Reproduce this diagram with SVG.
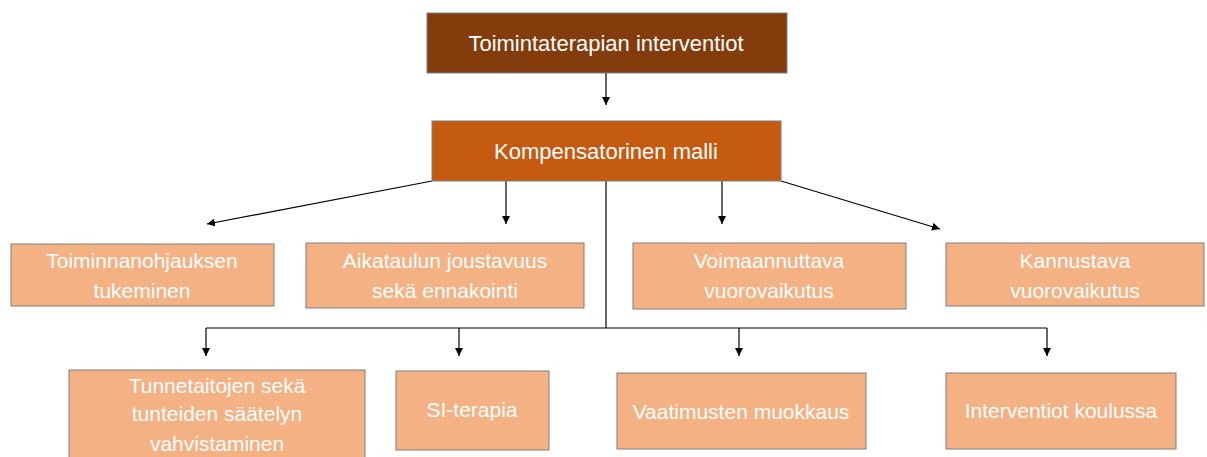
<svg xmlns="http://www.w3.org/2000/svg" width="1207" height="457" viewBox="0 0 1207 457">
<style>
.box{stroke:#7f7f7f;stroke-width:1}
.top{fill:#843c0c}
.mid{fill:#c55a11}
.leaf{fill:#f4b183}
text{font-family:"Liberation Sans",Arial,sans-serif;font-size:21px;fill:#ffffff;text-anchor:middle}
.c line,.c polyline{stroke:#000;stroke-width:1.2;fill:none}
</style>
<defs>
<marker id="ah" viewBox="0 0 10 10" refX="10" refY="5" markerWidth="8" markerHeight="8" markerUnits="userSpaceOnUse" orient="auto">
<path d="M0,0 L10,5 L0,10 z" fill="#000"/>
</marker>
</defs>
<g class="c" id="connectors">
<line x1="606" y1="73" x2="606" y2="105" marker-end="url(#ah)"/>
<line x1="432" y1="181" x2="207" y2="224" marker-end="url(#ah)"/>
<line x1="506" y1="181" x2="506" y2="224" marker-end="url(#ah)"/>
<line x1="722" y1="181" x2="722" y2="224" marker-end="url(#ah)"/>
<line x1="781" y1="181" x2="940" y2="229" marker-end="url(#ah)"/>
<polyline points="606,181 606,328"/>
<line x1="206" y1="328" x2="1047" y2="328"/>
<line x1="206" y1="328" x2="206" y2="356" marker-end="url(#ah)"/>
<line x1="459" y1="328" x2="459" y2="356" marker-end="url(#ah)"/>
<line x1="739" y1="328" x2="739" y2="356" marker-end="url(#ah)"/>
<line x1="1047" y1="328" x2="1047" y2="356" marker-end="url(#ah)"/>
</g>
<g id="n-root">
<rect class="box top" x="427" y="13" width="360" height="60"/>
<text x="606" y="51" style="font-size:22px">Toimintaterapian interventiot</text>
</g>
<g id="n-komp">
<rect class="box mid" x="432" y="121" width="349" height="60"/>
<text x="606" y="159" style="font-size:22px">Kompensatorinen malli</text>
</g>
<g id="n-toim">
<rect class="box leaf" x="11" y="244" width="263" height="62"/>
<text x="142" y="268">Toiminnanohjauksen</text>
<text x="142" y="298">tukeminen</text>
</g>
<g id="n-aika">
<rect class="box leaf" x="306" y="243" width="278" height="65"/>
<text x="445" y="268">Aikataulun joustavuus</text>
<text x="445" y="298">sekä ennakointi</text>
</g>
<g id="n-voim">
<rect class="box leaf" x="633" y="243" width="273" height="66"/>
<text x="769" y="268">Voimaannuttava</text>
<text x="769" y="298">vuorovaikutus</text>
</g>
<g id="n-kann">
<rect class="box leaf" x="946" y="243" width="258" height="63"/>
<text x="1075" y="268">Kannustava</text>
<text x="1075" y="298">vuorovaikutus</text>
</g>
<g id="n-tunne">
<rect class="box leaf" x="69" y="370" width="296" height="92"/>
<text x="217" y="393">Tunnetaitojen sekä</text>
<text x="217" y="421">tunteiden säätelyn</text>
<text x="217" y="451">vahvistaminen</text>
</g>
<g id="n-si">
<rect class="box leaf" x="396" y="371" width="153" height="79"/>
<text x="472" y="417">SI-terapia</text>
</g>
<g id="n-vaat">
<rect class="box leaf" x="617" y="373" width="249" height="76"/>
<text x="741" y="419">Vaatimusten muokkaus</text>
</g>
<g id="n-koulu">
<rect class="box leaf" x="946" y="373" width="230" height="76"/>
<text x="1061" y="418">Interventiot koulussa</text>
</g>
</svg>
